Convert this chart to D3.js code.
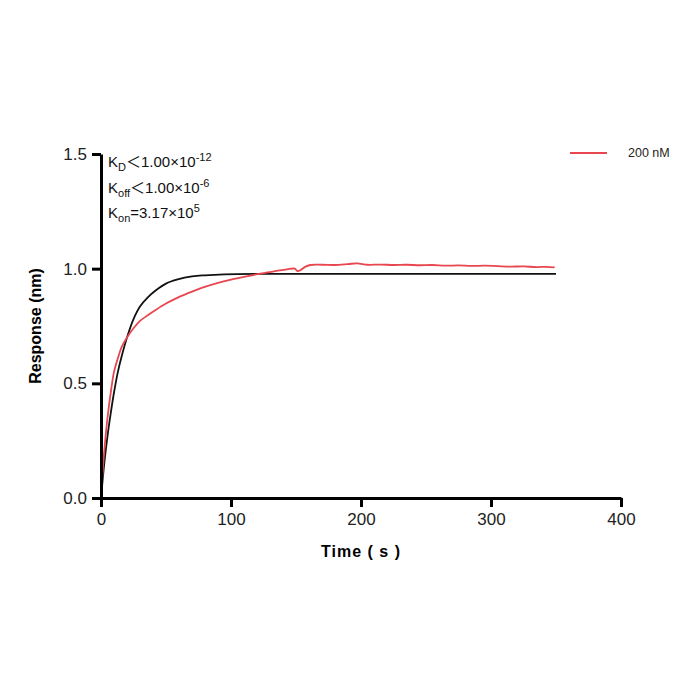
<!DOCTYPE html>
<html>
<head>
<meta charset="utf-8">
<script src="https://cdn.jsdelivr.net/npm/d3@7"></script>
<style>
  body { margin: 0; background: #fff; }
  text { font-family: Arial, "Liberation Sans", sans-serif; }
</style>
</head>
<body>
<div id="chart"></div>
<script>
// measured response, 200 nM
var redT = [0, 2, 5, 8, 10, 13, 16, 20, 25, 30, 36, 42, 50, 59, 70, 78, 90, 100, 110, 117, 125, 135, 143, 149, 151, 153, 157, 161, 170, 180, 190, 197, 205, 215, 225, 235, 245, 255, 265, 275, 285, 295, 305, 315, 325, 335, 342, 349];
var redR = [0, 0.17, 0.35, 0.48, 0.55, 0.61, 0.66, 0.70, 0.74, 0.772, 0.797, 0.82, 0.848, 0.874, 0.9, 0.917, 0.938, 0.952, 0.964, 0.972, 0.981, 0.99, 0.997, 1.0, 0.99, 0.992, 1.008, 1.016, 1.017, 1.016, 1.02, 1.023, 1.017, 1.018, 1.016, 1.017, 1.015, 1.016, 1.013, 1.014, 1.012, 1.013, 1.011, 1.009, 1.01, 1.007, 1.008, 1.006];
// fitted curve
var fitT = [0, 2.5, 5, 7.5, 10, 13, 16, 20, 25, 30, 36, 42, 50, 59, 70, 80, 95, 120, 200, 350];
var fitR = [0, 0.15, 0.27, 0.37, 0.46, 0.55, 0.62, 0.70, 0.78, 0.835, 0.875, 0.905, 0.935, 0.953, 0.966, 0.971, 0.975, 0.977, 0.977, 0.977];

var xTicks = [0, 100, 200, 300, 400];
var yTicks = [0, 0.5, 1.0, 1.5];
var legendLabel = "200 nM";

var width = 700, height = 700;
var svg = d3.select('#chart').append('svg')
    .attr('width', width)
    .attr('height', height);

var x = d3.scaleLinear().domain([0, 400]).range([101, 621]);
var y = d3.scaleLinear().domain([0, 1.5]).range([498, 154]);

var redData = redT.map((t, i) => [t, redR[i]]);
var fitData = fitT.map((t, i) => [t, fitR[i]]);

var line = d3.line()
    .x(d => x(d[0]))
    .y(d => y(d[1]))
    .curve(d3.curveCatmullRom.alpha(0.5));

svg.append('path')
    .datum(fitData)
    .attr('d', line)
    .attr('fill', 'none')
    .attr('stroke', '#111')
    .attr('stroke-width', 1.8);

svg.append('path')
    .datum(redData)
    .attr('d', line)
    .attr('fill', 'none')
    .attr('stroke', '#e8474f')
    .attr('stroke-width', 1.8);

// axes
var xAxis = d3.axisBottom(x).tickValues(xTicks).tickSize(9).tickSizeOuter(0).tickPadding(6)
    .tickFormat(d3.format('d'));
var yAxis = d3.axisLeft(y).tickValues(yTicks).tickSize(9).tickSizeOuter(0).tickPadding(5)
    .tickFormat(d3.format('.1f'));

var gx = svg.append('g').attr('transform', 'translate(0,' + 498 + ')').call(xAxis);
var gy = svg.append('g').attr('transform', 'translate(' + 101 + ',0)').call(yAxis);

[gx, gy].forEach(g => {
    g.select('.domain').attr('stroke', '#000').attr('stroke-width', 3);
    g.selectAll('.tick line').attr('stroke', '#000').attr('stroke-width', 3);
    g.selectAll('.tick text').attr('fill', '#222')
        .style('font-size', '17px')
        .style('font-family', 'Arial, "Liberation Sans", sans-serif');
});

// axis titles
svg.append('text')
    .attr('x', 361)
    .attr('y', 557)
    .attr('text-anchor', 'middle')
    .style('font-size', '16px')
    .style('font-weight', 'bold')
    .style('letter-spacing', '1px')
    .text('Time ( s )');

svg.append('text')
    .attr('transform', 'translate(41,326) rotate(-90)')
    .attr('text-anchor', 'middle')
    .style('font-size', '16px')
    .style('font-weight', 'bold')
    .text('Response (nm)');

// kinetic annotations
var notes = [
    { k: 'D', op: '＜', v: '1.00×10', e: '-12' },
    { k: 'off', op: '＜', v: '1.00×10', e: '-6' },
    { k: 'on', op: '=', v: '3.17×10', e: '5' }
];
notes.forEach((n, i) => {
    var t = svg.append('text')
        .attr('x', 108)
        .attr('y', 167 + i * 25.5)
        .style('font-size', '15px')
        .attr('fill', '#111');
    t.append('tspan').text('K');
    t.append('tspan').attr('dy', 4).style('font-size', '11px').text(n.k);
    t.append('tspan').attr('dy', -4)
        .style('font-family', n.op === '=' ? null : '"Noto Sans CJK SC", sans-serif')
        .text(n.op);
    t.append('tspan').text(n.v);
    t.append('tspan').attr('dy', -6).style('font-size', '11px').text(n.e);
});

// legend
svg.append('line')
    .attr('x1', 570).attr('x2', 607)
    .attr('y1', 153).attr('y2', 153)
    .attr('stroke', '#e8474f')
    .attr('stroke-width', 1.8);
svg.append('text')
    .attr('x', 628)
    .attr('y', 157)
    .style('font-size', '12.5px')
    .attr('fill', '#222')
    .text(legendLabel);
</script>
</body>
</html>
